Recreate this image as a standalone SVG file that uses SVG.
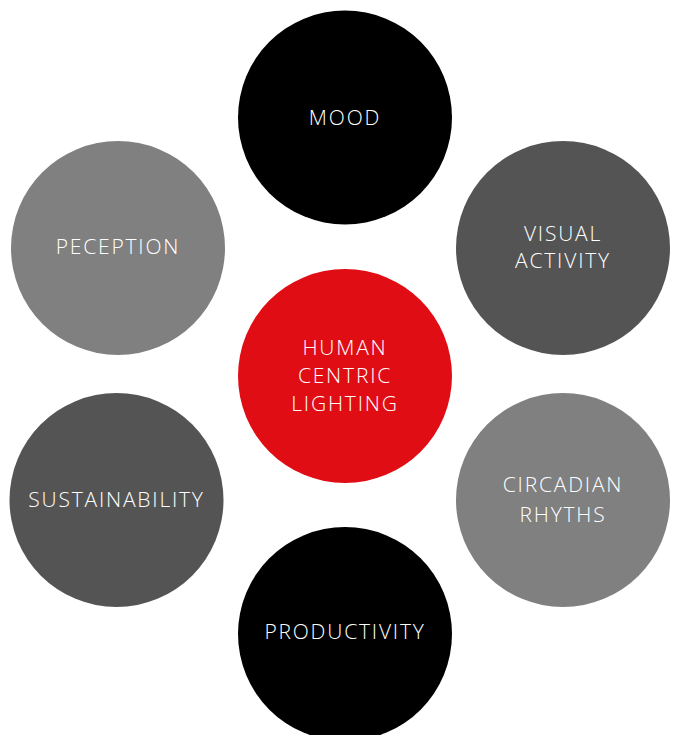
<svg xmlns="http://www.w3.org/2000/svg" width="677" height="735" viewBox="0 0 677 735">
<style>
.lbl{font-family:"Open Sans","Liberation Sans",sans-serif;font-weight:300;font-size:21px;fill:#ffffff;text-anchor:middle;letter-spacing:1.8px}
.black{fill:#000000}
.dark{fill:#545454}
.light{fill:#808080}
.red{fill:#e00d15}
</style>
<rect width="677" height="735" fill="#ffffff"/>
<g id="connectors"/>
<g id="mood">
<circle class="black" cx="345" cy="117.5" r="107"/>
<text class="lbl" x="345" y="125">MOOD</text>
</g>
<g id="visual-activity">
<circle class="dark" cx="563" cy="248" r="107"/>
<text class="lbl" x="563" y="241">VISUAL</text>
<text class="lbl" x="563" y="268">ACTIVITY</text>
</g>
<g id="peception">
<circle class="light" cx="118" cy="248" r="107"/>
<text class="lbl" x="118" y="254">PECEPTION</text>
</g>
<g id="human-centric-lighting">
<circle class="red" cx="345" cy="376" r="107"/>
<text class="lbl" x="345" y="355">HUMAN</text>
<text class="lbl" x="345" y="383">CENTRIC</text>
<text class="lbl" x="345" y="411">LIGHTING</text>
</g>
<g id="sustainability">
<circle class="dark" cx="116.5" cy="500" r="107"/>
<text class="lbl" x="116.5" y="507">SUSTAINABILITY</text>
</g>
<g id="circadian-rhythms">
<circle class="light" cx="563" cy="500" r="107"/>
<text class="lbl" x="563" y="492">CIRCADIAN</text>
<text class="lbl" x="563" y="522">RHYTHS</text>
</g>
<g id="productivity">
<circle class="black" cx="345" cy="634" r="107"/>
<text class="lbl" x="345" y="639">PRODUCTIVITY</text>
</g>
</svg>
